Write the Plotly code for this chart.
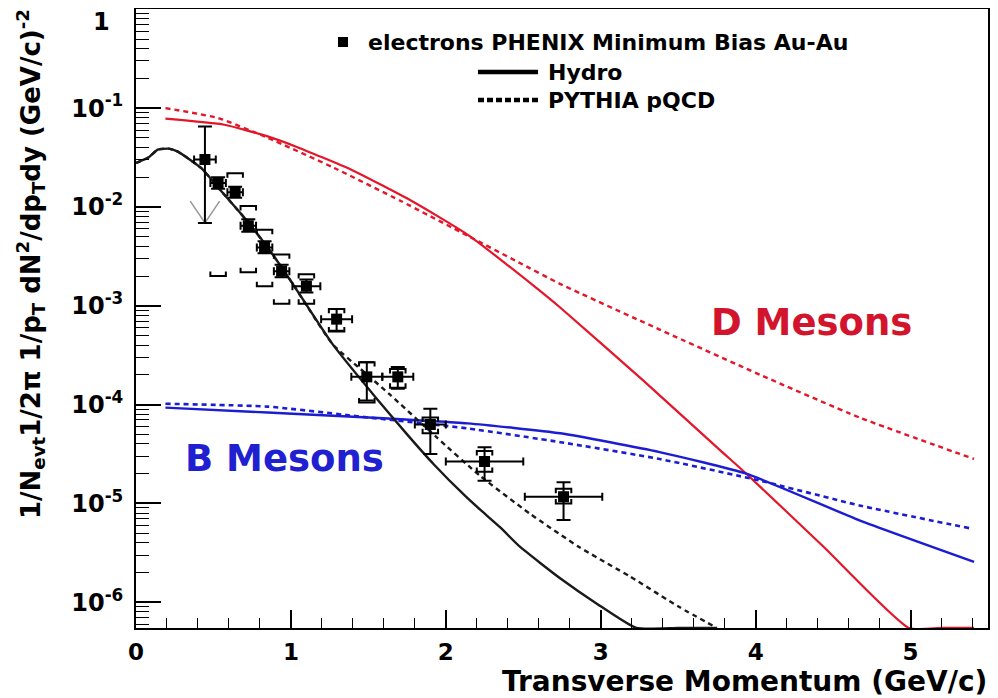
import plotly.graph_objects as go

# ---------------- data ----------------
# PHENIX minimum-bias Au-Au non-photonic electrons
pt_x = [0.445, 0.53, 0.64, 0.725, 0.83, 0.94, 1.10, 1.295, 1.49, 1.69, 1.90, 2.25, 2.76]
pt_y = [0.0302, 0.0175, 0.0141, 0.00646, 0.00389, 0.00224, 0.00158, 7.33e-4, 1.91e-4, 1.91e-4, 6.3e-5, 2.66e-5, 1.17e-5]
pt_stat_hi = [0.0653, 0.0200, 0.0160, 0.0075, 0.0045, 0.0026, 0.00185, 9.3e-4, 2.69e-4, 2.4e-4, 9.1e-5, 3.7e-5, 1.64e-5]
pt_stat_lo = [0.0069, 0.0153, 0.0124, 0.0056, 0.0034, 0.00195, 0.00136, 5.6e-4, 1.10e-4, 1.45e-4, 3.16e-5, 1.7e-5, 6.8e-6]
pt_ex = [0.07, 0.05, 0.05, 0.05, 0.05, 0.05, 0.09, 0.10, 0.10, 0.10, 0.10, 0.25, 0.25]
pt_sys_hi = [None, None, 0.0219, 0.0102, 0.00589, 0.00331, 0.00209, 9.3e-4, 2.69e-4, 2.29e-4, 7.41e-5, 3.39e-5, 1.41e-5]
pt_sys_lo = [None, 0.0020, None, 0.00219, 0.00158, 0.00105, 0.00105, 5.5e-4, 1.05e-4, 1.48e-4, 5.13e-5, 2.09e-5, 1.0e-5]

# D mesons
d_hydro_x = [0.19, 0.57, 0.85, 1.03, 1.39, 1.78, 2.14, 2.57, 2.74, 3.27, 3.77, 3.94, 4.44, 4.99, 5.2, 5.41]
d_hydro_y = [0.0782, 0.0679, 0.0518, 0.0410, 0.0238, 0.01148, 0.00525, 0.00158, 9.55e-4, 1.78e-4,
             3.47e-5, 2.0e-5, 3.63e-6, 5.5e-7, 5.5e-7, 5.5e-7]
d_pyth_x = [0.19, 0.53, 0.85, 1.28, 1.71, 2.14, 2.47, 2.74, 3.38, 4.03, 4.67, 5.41]
d_pyth_y = [0.100, 0.0794, 0.0501, 0.0248, 0.01148, 0.00513, 0.00275, 0.00166, 5.75e-4, 2.0e-4, 7.41e-5, 2.82e-5]

# B mesons
b_hydro_x = [0.19, 0.85, 1.50, 2.14, 2.74, 3.38, 3.94, 4.67, 5.41]
b_hydro_y = [9.33e-5, 8.32e-5, 7.41e-5, 6.46e-5, 5.13e-5, 3.31e-5, 2.0e-5, 6.76e-6, 2.57e-6]
b_pyth_x = [0.19, 0.85, 1.50, 2.14, 2.74, 3.38, 4.03, 4.67, 5.38]
b_pyth_y = [1.02e-4, 9.55e-5, 7.41e-5, 5.75e-5, 4.17e-5, 2.82e-5, 1.70e-5, 9.55e-6, 5.62e-6]

# electrons (sum) curves
e_hydro_x = [0.0, 0.08, 0.14, 0.21, 0.27, 0.42, 0.55, 0.70, 0.85, 1.0, 1.27, 1.55, 1.75, 1.92,
             2.13, 2.22, 2.35, 2.48, 2.74, 2.97, 3.23, 3.5, 3.75]
e_hydro_y = [0.0279, 0.0316, 0.0380, 0.0389, 0.0363, 0.0248, 0.0145, 0.00776, 0.00389, 0.00178,
             4.07e-4, 1.17e-4, 5.0e-5, 2.51e-5, 1.17e-5, 8.7e-6, 5.75e-6, 3.63e-6, 1.74e-6,
             9.8e-7, 5.5e-7, 5.5e-7, 5.5e-7]
e_pyth_x = [0.0, 0.08, 0.14, 0.21, 0.27, 0.42, 0.55, 0.70, 0.85, 1.0, 1.27, 1.45, 1.64, 1.94,
            2.22, 2.54, 2.86, 3.19, 3.51, 3.75]
e_pyth_y = [0.0279, 0.0316, 0.0380, 0.0389, 0.0363, 0.0248, 0.0145, 0.00776, 0.00389, 0.00178,
            4.07e-4, 2.29e-4, 1.26e-4, 4.68e-5, 1.91e-5, 7.94e-6, 3.63e-6, 1.82e-6, 8.9e-7, 5.5e-7]

x_ticks = [0, 1, 2, 3, 4, 5]
y_tickvals = [1, 1e-1, 1e-2, 1e-3, 1e-4, 1e-5, 1e-6]
y_ticktext = ["", "10<sup>-1</sup>", "10<sup>-2</sup>", "10<sup>-3</sup>",
              "10<sup>-4</sup>", "10<sup>-5</sup>", "10<sup>-6</sup>"]
y_top_label = "1"

legend_labels = ["electrons PHENIX Minimum Bias Au-Au", "Hydro", "PYTHIA pQCD"]
x_title = "Transverse Momentum (GeV/c)"
y_title = ("1/N<sub>evt</sub>1/2\u03c0 1/p<sub>T</sub> dN<sup>2</sup>/dp<sub>T</sub>dy "
           "(GeV/c)<sup>-2</sup>")

# ---------------- styles ----------------
RED = "#e3162a"
BLUE = "#1c1cd2"
BLACK = "#1a1a1a"
FONT = "DejaVu Sans"

fig = go.Figure()

def curve(x, y, color, dash=None, width=2.2):
    fig.add_trace(go.Scatter(
        x=x, y=y, mode="lines", showlegend=False, hoverinfo="skip",
        line=dict(color=color, width=width, dash=dash, shape="spline", smoothing=0.5),
    ))

curve(d_pyth_x, d_pyth_y, RED, dash="5px,4px", width=2.4)
curve(d_hydro_x, d_hydro_y, RED, width=2.2)
curve(b_pyth_x, b_pyth_y, BLUE, dash="5px,4px", width=2.6)
curve(b_hydro_x, b_hydro_y, BLUE, width=2.4)
curve(e_pyth_x, e_pyth_y, BLACK, dash="5px,4px", width=2.4)
curve(e_hydro_x, e_hydro_y, BLACK, width=2.4)

# systematic brackets built from the data arrays
BW = 0.05
TK = 10 ** 0.045
bx, by = [], []
for x, hi, lo in zip(pt_x, pt_sys_hi, pt_sys_lo):
    if hi is not None:
        bx += [x - BW, x - BW, x + BW, x + BW, None]
        by += [hi / TK, hi, hi, hi / TK, None]
    if lo is not None:
        bx += [x - BW, x - BW, x + BW, x + BW, None]
        by += [lo * TK, lo, lo, lo * TK, None]
fig.add_trace(go.Scatter(x=bx, y=by, mode="lines", showlegend=False, hoverinfo="skip",
                         line=dict(color="black", width=2)))

# grey arrow head marking the lower end of the first point
vx = [pt_x[0] - 0.095, pt_x[0], pt_x[0] + 0.095]
vy = [pt_stat_lo[0] * 10 ** 0.22, pt_stat_lo[0], pt_stat_lo[0] * 10 ** 0.22]
fig.add_trace(go.Scatter(x=vx, y=vy, mode="lines", showlegend=False, hoverinfo="skip",
                         line=dict(color="#9a9a9a", width=1.6)))

# data points with statistical errors
fig.add_trace(go.Scatter(
    x=pt_x, y=pt_y, mode="markers", showlegend=False,
    marker=dict(symbol="square", size=11, color="black"),
    error_y=dict(type="data", symmetric=False,
                 array=[h - y for h, y in zip(pt_stat_hi, pt_y)],
                 arrayminus=[y - l for l, y in zip(pt_stat_lo, pt_y)],
                 color="black", thickness=2, width=7),
    error_x=dict(type="data", array=pt_ex, color="black", thickness=2, width=4),
))

# ---------------- layout ----------------
# the page body has an 8 px margin, so the figure starts at page (8, 8)
OFF = 8
PL, PR, PT, PB = 136, 988, 9, 628        # plot area in page pixels
W, H = 998 - OFF, 698 - OFF
L, R, T, B = PL - OFF, (998 - PR), PT - OFF, 698 - PB

def px(xp):
    return (xp - PL) / (PR - PL)

def py(yp):
    return (PB - yp) / (PB - PT)

fig.update_layout(
    width=W, height=H,
    margin=dict(l=L, r=R, t=T, b=B, autoexpand=False),
    paper_bgcolor="white", plot_bgcolor="white",
    showlegend=False,
    xaxis=dict(
        range=[0, 5.5], tickmode="array", tickvals=x_ticks, automargin=False,
        ticks="inside", ticklen=18, tickwidth=1.6, tickcolor="black",
        minor=dict(ticks="inside", ticklen=10, tickwidth=1.4, tickcolor="black", dtick=0.2),
        showline=True, linecolor="black", linewidth=1.8, mirror=True,
        showgrid=False, zeroline=False,
        tickfont=dict(family=FONT, size=23, color="black", weight="bold"),
        ticklabelstandoff=2,
    ),
    yaxis=dict(
        type="log", range=[-6.26, 0.003], automargin=False,
        tickmode="array", tickvals=y_tickvals, ticktext=y_ticktext,
        ticks="inside", ticklen=25, tickwidth=1.6, tickcolor="black",
        minor=dict(ticks="inside", ticklen=13, tickwidth=1.4, tickcolor="black", dtick="D1"),
        showline=True, linecolor="black", linewidth=1.8, mirror=True,
        showgrid=False, zeroline=False,
        tickfont=dict(family=FONT, size=24, color="black", weight="bold"),
        ticklabelstandoff=6,
    ),
)

# legend drawn by hand (ROOT style)
shapes = [
    dict(type="rect", xref="paper", yref="paper",
         x0=px(338), x1=px(348), y0=py(47), y1=py(37),
         fillcolor="black", line=dict(width=0)),
    dict(type="line", xref="paper", yref="paper",
         x0=px(478), x1=px(538), y0=py(72), y1=py(72),
         line=dict(color="black", width=4.5)),
    dict(type="line", xref="paper", yref="paper",
         x0=px(478), x1=px(538), y0=py(100), y1=py(100),
         line=dict(color="black", width=4.5, dash="6px,3px")),
]
fig.update_layout(shapes=shapes)

ann = [
    dict(text=legend_labels[0], x=px(366), y=py(42), xanchor="left", yanchor="middle"),
    dict(text=legend_labels[1], x=px(546), y=py(72), xanchor="left", yanchor="middle"),
    dict(text=legend_labels[2], x=px(546), y=py(100), xanchor="left", yanchor="middle"),
]
for a in ann:
    fig.add_annotation(xref="paper", yref="paper", showarrow=False,
                       font=dict(family=FONT, size=22, color="black", weight="bold"), **a)

fig.add_annotation(xref="paper", yref="paper", showarrow=False,
                   text="D Mesons", x=px(811), y=py(322), xanchor="center", yanchor="middle",
                   font=dict(family=FONT, size=37, color="#d2142d", weight="bold"))
fig.add_annotation(xref="paper", yref="paper", showarrow=False,
                   text="B Mesons", x=px(284), y=py(458), xanchor="center", yanchor="middle",
                   font=dict(family=FONT, size=37, color="#2020d0", weight="bold"))

# top "1" label sits a little below the frame corner, as in ROOT
fig.add_annotation(xref="paper", yref="paper", showarrow=False,
                   text=y_top_label, x=px(112), y=py(22), xanchor="right", yanchor="middle",
                   font=dict(family=FONT, size=24, color="black", weight="bold"))

fig.add_annotation(xref="paper", yref="paper", showarrow=False,
                   text=x_title, x=1, y=0, xanchor="right", yanchor="middle", yshift=-53,
                   borderpad=0,
                   font=dict(family=FONT, size=28, color="black", weight="bold"))
fig.add_annotation(xref="paper", yref="paper", showarrow=False, textangle=-90,
                   text=y_title, x=0, y=1, xanchor="center", yanchor="top",
                   xshift=-(PL - 30), yshift=2,
                   font=dict(family=FONT, size=26, color="black", weight="bold"))

fig.write_html("out.html")
